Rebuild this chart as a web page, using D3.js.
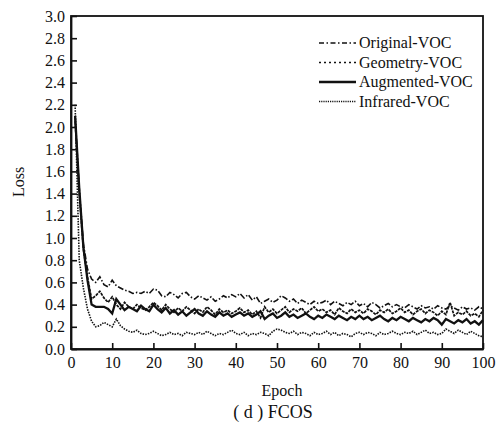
<!DOCTYPE html>
<html>
<head>
<meta charset="utf-8">
<script src="https://cdn.jsdelivr.net/npm/d3@7"></script>
<style>
  body { margin: 0; background: #fff; }
  text { font-family: "Liberation Serif", "DejaVu Serif", serif; fill: #111; }
</style>
</head>
<body>
<div id="chart"></div>
<script>
const width = 501;
const height = 423;
const margin = { top: 16, right: 18, bottom: 74, left: 71 };

const seriesNames = ["Original-VOC", "Geometry-VOC", "Augmented-VOC", "Infrared-VOC"];
const yTicks = [0, 0.2, 0.4, 0.6, 0.8, 1.0, 1.2, 1.4, 1.6, 1.8, 2.0, 2.2, 2.4, 2.6, 2.8, 3.0];
const xTicks = [0, 10, 20, 30, 40, 50, 60, 70, 80, 90, 100];

// loss per epoch, epochs 1..100
const originalVOC = [
  2.10, 1.45, 0.95, 0.72, 0.63, 0.60, 0.65, 0.58, 0.56, 0.62,
  0.57, 0.55, 0.53, 0.52, 0.50, 0.51, 0.50, 0.52, 0.50, 0.54,
  0.53, 0.48, 0.47, 0.51, 0.49, 0.46, 0.50, 0.51, 0.47, 0.45,
  0.48, 0.46, 0.44, 0.47, 0.43, 0.45, 0.48, 0.46, 0.49, 0.47,
  0.50, 0.46, 0.49, 0.44, 0.47, 0.41, 0.43, 0.45, 0.42, 0.44,
  0.48, 0.46, 0.43, 0.45, 0.41, 0.44, 0.42, 0.40, 0.43, 0.41,
  0.42, 0.44, 0.40, 0.43, 0.41, 0.39, 0.42, 0.40, 0.43, 0.39,
  0.41, 0.38, 0.42, 0.40, 0.37, 0.39, 0.41, 0.38, 0.40, 0.38,
  0.37, 0.40, 0.38, 0.36, 0.39, 0.37, 0.38, 0.36, 0.39, 0.37,
  0.36, 0.39, 0.37, 0.35, 0.38, 0.36, 0.37, 0.35, 0.38, 0.36
];
const geometryVOC = [
  2.05, 1.40, 0.90, 0.65, 0.45, 0.48, 0.52, 0.46, 0.42, 0.47,
  0.40, 0.36, 0.42, 0.38, 0.36, 0.40, 0.37, 0.35, 0.38, 0.42,
  0.39, 0.35, 0.40, 0.36, 0.33, 0.37, 0.34, 0.38, 0.35, 0.32,
  0.36, 0.33, 0.38, 0.35, 0.31, 0.36, 0.33, 0.35, 0.32, 0.34,
  0.37, 0.33, 0.35, 0.31, 0.34, 0.28, 0.38, 0.33, 0.36, 0.32,
  0.35, 0.38, 0.33, 0.36, 0.34, 0.37, 0.32, 0.35, 0.38, 0.34,
  0.36, 0.33, 0.35, 0.31, 0.37, 0.34, 0.32, 0.36, 0.33, 0.35,
  0.32, 0.36, 0.34, 0.31, 0.35, 0.33, 0.36, 0.32, 0.34, 0.37,
  0.33, 0.35, 0.31, 0.34, 0.36, 0.32, 0.35, 0.33, 0.30, 0.34,
  0.31, 0.42, 0.30, 0.33, 0.31, 0.34, 0.30, 0.32, 0.29, 0.35
];
const augmentedVOC = [
  2.10, 1.45, 0.92, 0.62, 0.40, 0.38, 0.38, 0.38, 0.36, 0.32,
  0.45, 0.40, 0.35, 0.38, 0.36, 0.34, 0.39, 0.36, 0.34, 0.40,
  0.36, 0.33, 0.37, 0.32, 0.35, 0.31, 0.34, 0.30, 0.33, 0.36,
  0.32, 0.30, 0.34, 0.31, 0.29, 0.33, 0.30, 0.32, 0.29, 0.31,
  0.33, 0.30, 0.32, 0.29, 0.31, 0.34, 0.27, 0.30, 0.32, 0.28,
  0.30, 0.33, 0.29, 0.31, 0.28, 0.30, 0.32, 0.29, 0.27, 0.30,
  0.28, 0.31, 0.29, 0.27, 0.30, 0.28, 0.26, 0.29, 0.27, 0.30,
  0.27, 0.29, 0.26, 0.28, 0.30, 0.27, 0.25, 0.28, 0.26, 0.29,
  0.27, 0.25, 0.28, 0.26, 0.24, 0.27, 0.25, 0.28, 0.26, 0.22,
  0.27, 0.25, 0.23, 0.26, 0.24, 0.27, 0.23, 0.25, 0.22, 0.26
];
const infraredVOC = [
  2.20, 0.80, 0.55, 0.36, 0.25, 0.20, 0.21, 0.24, 0.22, 0.20,
  0.27, 0.21, 0.18, 0.16, 0.15, 0.17, 0.14, 0.13, 0.14, 0.16,
  0.14, 0.12, 0.13, 0.15, 0.13, 0.14, 0.12, 0.15, 0.14, 0.13,
  0.15, 0.13, 0.16, 0.14, 0.12, 0.14, 0.13, 0.15, 0.17, 0.14,
  0.13, 0.15, 0.12, 0.14, 0.13, 0.15, 0.14, 0.12, 0.16, 0.18,
  0.17, 0.15, 0.14, 0.16, 0.13, 0.15, 0.14, 0.12, 0.15, 0.13,
  0.14, 0.16, 0.13, 0.15, 0.12, 0.14, 0.13, 0.11, 0.14, 0.15,
  0.13, 0.15, 0.14, 0.12, 0.15, 0.13, 0.14, 0.16, 0.14, 0.13,
  0.15, 0.14, 0.16, 0.13, 0.15, 0.17, 0.14, 0.15, 0.13, 0.14,
  0.18, 0.16, 0.14, 0.17, 0.15, 0.13, 0.16, 0.14, 0.12, 0.11
];

const allSeries = [originalVOC, geometryVOC, augmentedVOC, infraredVOC];
const lineStyles = [
  { dash: "6,2,1.5,2", legendDash: "5,2.5,1.5,2.5", w: 1.6 },
  { dash: "3,1", legendDash: "2,3", w: 1.7 },
  { dash: null, legendDash: null, w: 2.3 },
  { dash: "1.5,1.2", legendDash: "1.2,1", w: 1.6 }
];

const svg = d3.select("#chart")
  .append("svg")
  .attr("width", width)
  .attr("height", height);

const x = d3.scaleLinear().domain([0, 100]).range([margin.left, width - margin.right]);
const y = d3.scaleLinear().domain([0, 3]).range([height - margin.bottom, margin.top]);

const line = d3.line()
  .x((d, i) => x(i + 1))
  .y(d => y(d));

svg.selectAll(".series")
  .data(allSeries)
  .enter()
  .append("path")
  .attr("class", "series")
  .attr("d", line)
  .attr("fill", "none")
  .attr("stroke", "#111")
  .attr("stroke-width", (d, i) => lineStyles[i].w)
  .attr("stroke-dasharray", (d, i) => lineStyles[i].dash);

// frame
svg.append("rect")
  .attr("x", x(0))
  .attr("y", y(3))
  .attr("width", x(100) - x(0))
  .attr("height", y(0) - y(3))
  .attr("fill", "none")
  .attr("stroke", "#111")
  .attr("stroke-width", 1.8);

const xAxis = svg.append("g")
  .attr("transform", "translate(0," + y(0) + ")")
  .call(d3.axisBottom(x).tickValues(xTicks).tickSizeInner(-6).tickSizeOuter(0).tickPadding(8).tickFormat(d3.format("d")));

const yAxis = svg.append("g")
  .attr("transform", "translate(" + x(0) + ",0)")
  .call(d3.axisLeft(y).tickValues(yTicks).tickSizeInner(-6).tickSizeOuter(0).tickPadding(6).tickFormat(d3.format(".1f")));

[xAxis, yAxis].forEach(g => {
  g.select(".domain").attr("stroke", "#111").attr("stroke-width", 1.8);
  g.selectAll(".tick line").attr("stroke", "#111").attr("stroke-width", 1.6);
  g.selectAll(".tick text")
    .attr("font-family", "Liberation Serif, serif")
    .attr("font-size", 16)
    .attr("fill", "#111");
});

svg.append("text")
  .attr("transform", "translate(24,182) rotate(-90)")
  .attr("text-anchor", "middle")
  .attr("font-size", 16)
  .text("Loss");

svg.append("text")
  .attr("x", 282)
  .attr("y", 396)
  .attr("text-anchor", "middle")
  .attr("font-size", 16)
  .text("Epoch");

svg.append("text")
  .attr("x", 273)
  .attr("y", 418)
  .attr("text-anchor", "middle")
  .attr("font-size", 18)
  .text("( d ) FCOS");

// legend
const legend = svg.append("g").attr("transform", "translate(319,43)");
seriesNames.forEach((name, i) => {
  const row = legend.append("g").attr("transform", "translate(0," + i * 19.5 + ")");
  row.append("line")
    .attr("x1", 0).attr("x2", 37)
    .attr("y1", 0).attr("y2", 0)
    .attr("stroke", "#111")
    .attr("stroke-width", lineStyles[i].w)
    .attr("stroke-dasharray", lineStyles[i].legendDash);
  row.append("text")
    .attr("x", 40)
    .attr("y", 5)
    .attr("font-size", 16)
    .text(name);
});
</script>
</body>
</html>
